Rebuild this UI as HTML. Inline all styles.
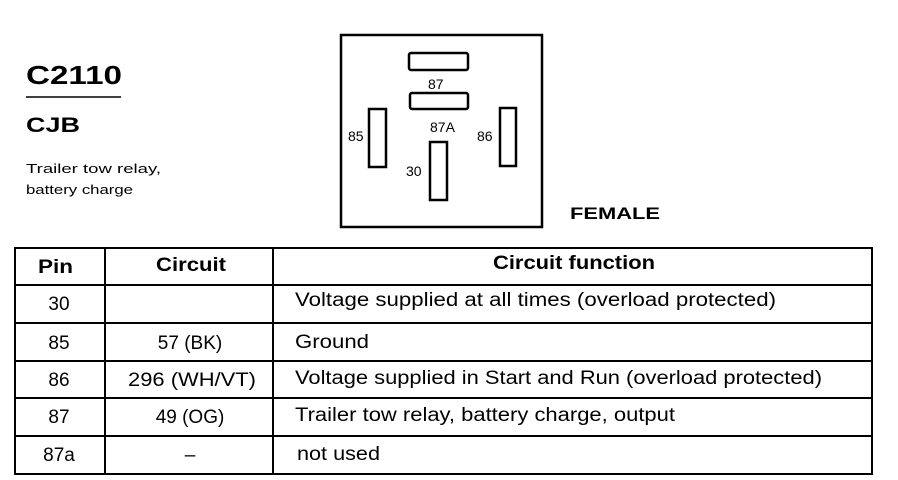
<!DOCTYPE html>
<html><head><style>
body{margin:0;background:#fff;}
svg{display:block;font-family:"Liberation Sans",Arial,sans-serif;}
</style></head><body>
<svg width="898" height="480" viewBox="0 0 898 480" xmlns="http://www.w3.org/2000/svg">
<text x="26" y="84" font-size="26" font-weight="bold" textLength="96" lengthAdjust="spacingAndGlyphs">C2110</text>
<line x1="26" y1="97" x2="121" y2="97" stroke="#000" stroke-width="1.5"/>
<text x="26" y="132" font-size="21" font-weight="bold" textLength="54" lengthAdjust="spacingAndGlyphs">CJB</text>
<text x="26" y="173" font-size="13" textLength="135" lengthAdjust="spacingAndGlyphs">Trailer tow relay,</text>
<text x="26" y="194" font-size="13" textLength="107" lengthAdjust="spacingAndGlyphs">battery charge</text>
<rect x="341" y="35" width="201" height="192" fill="none" stroke="#000" stroke-width="2.5"/>
<g fill="none" stroke="#000" stroke-width="2.5">
<rect x="409" y="53" width="59" height="17" rx="2"/>
<rect x="410" y="93" width="58" height="16" rx="2"/>
<rect x="369" y="109" width="17" height="58"/>
<rect x="500" y="108" width="16" height="58"/>
<rect x="430" y="142" width="17" height="58"/>
</g>
<g font-size="14">
<text x="428" y="89">87</text>
<text x="430" y="132">87A</text>
<text x="348" y="141">85</text>
<text x="477" y="141">86</text>
<text x="406" y="176">30</text>
</g>
<text x="570" y="219" font-size="17" font-weight="bold" textLength="90" lengthAdjust="spacingAndGlyphs">FEMALE</text>
<g stroke="#000" stroke-width="2" fill="none">
<rect x="15" y="248" width="857" height="226"/>
<line x1="15" y1="285" x2="872" y2="285"/>
<line x1="15" y1="323" x2="872" y2="323"/>
<line x1="15" y1="361" x2="872" y2="361"/>
<line x1="15" y1="398" x2="872" y2="398"/>
<line x1="15" y1="436" x2="872" y2="436"/>
<line x1="105" y1="248" x2="105" y2="474"/>
<line x1="273" y1="248" x2="273" y2="474"/>
</g>
<g font-size="19" font-weight="bold" lengthAdjust="spacingAndGlyphs">
<text x="38" y="273" textLength="35" lengthAdjust="spacingAndGlyphs">Pin</text>
<text x="156" y="271" textLength="70" lengthAdjust="spacingAndGlyphs">Circuit</text>
<text x="493" y="269" textLength="162" lengthAdjust="spacingAndGlyphs">Circuit function</text>
</g>
<g font-size="19" text-anchor="middle">
<text x="59" y="310">30</text>
<text x="59" y="349">85</text>
<text x="59" y="386">86</text>
<text x="59" y="423">87</text>
<text x="59" y="461">87a</text>
<text x="190" y="349">57 (BK)</text>
<text x="192" y="386" textLength="128" lengthAdjust="spacingAndGlyphs">296 (WH/VT)</text>
<text x="190" y="423">49 (OG)</text>
<text x="190" y="461">–</text>
</g>
<g font-size="19">
<text x="295" y="306" textLength="481" lengthAdjust="spacingAndGlyphs">Voltage supplied at all times (overload protected)</text>
<text x="295" y="348" textLength="74" lengthAdjust="spacingAndGlyphs">Ground</text>
<text x="295" y="384" textLength="527" lengthAdjust="spacingAndGlyphs">Voltage supplied in Start and Run (overload protected)</text>
<text x="295" y="421" textLength="380" lengthAdjust="spacingAndGlyphs">Trailer tow relay, battery charge, output</text>
<text x="297" y="460" textLength="83" lengthAdjust="spacingAndGlyphs">not used</text>
</g>
</svg>
</body></html>
